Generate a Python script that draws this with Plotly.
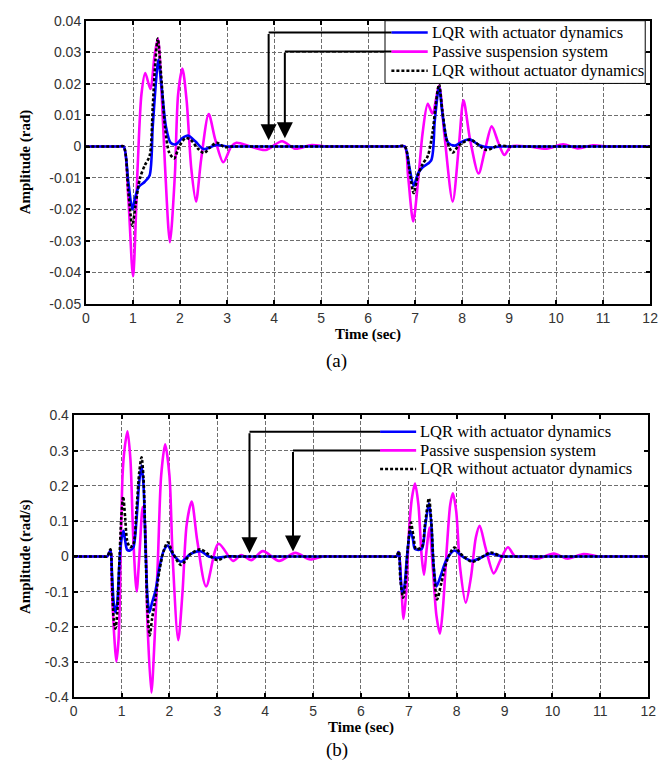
import plotly.graph_objects as go

# ---------------- data ----------------
# (a) pitch angle (rad) : (time s, value)
a_passive = [(0, 0), (0.70, 0), (0.80, 0), (0.90, -0.0164), (1.00, -0.0412), (1.10, -0.006), (1.18, 0.0167),
             (1.26, 0.0234), (1.37, 0.0183), (1.46, 0.0291), (1.53, 0.0343), (1.61, 0.0167),
             (1.68, -0.006), (1.785, -0.0304), (1.89, -0.0092), (1.96, 0.0167), (2.05, 0.0248),
             (2.14, 0.0147), (2.24, -0.0071), (2.34, -0.0175), (2.45, -0.004), (2.61, 0.0103),
             (2.75, 0.0022), (2.92, -0.005), (3.09, 0.0), (3.20, 0.0012), (3.50, 0.0),
             (3.82, -0.0011), (4.17, 0.0017), (4.45, -0.0007), (4.80, 0.0005), (5.10, 0), (5.30, 0),
             (6.60, 0), (6.78, 0), (6.85, -0.0092), (6.96, -0.0238), (7.07, -0.010), (7.16, 0.0043),
             (7.27, 0.0136), (7.37, 0.0105), (7.51, 0.0193), (7.62, 0.0043), (7.80, -0.0175),
             (7.93, 0.0), (8.03, 0.0147), (8.17, 0.0022), (8.35, -0.0086), (8.49, -0.0009),
             (8.63, 0.0064), (8.77, 0.0013), (8.90, -0.0027), (9.04, 0), (9.40, 0),
             (9.80, -0.0007), (10.15, 0.0007), (10.46, -0.0006), (10.78, 0.0004), (11.10, 0),
             (11.3, 0), (12, 0)]

a_lqr_dyn = [(0, 0), (0.70, 0), (0.80, 0), (0.90, -0.0112), (0.985, -0.0200), (1.04, -0.0165), (1.124, -0.0128),
             (1.25, -0.0112), (1.353, -0.0092), (1.42, 0.0064), (1.49, 0.0209), (1.537, 0.0276),
             (1.61, 0.0188), (1.70, 0.0064), (1.80, 0.0012), (1.91, 0.0007), (2.05, 0.0027),
             (2.17, 0.0035), (2.33, 0.0016), (2.50, -0.0008), (2.78, 0.0005), (3.0, 0), (3.2, 0),
             (6.6, 0), (6.78, 0), (6.885, -0.0071), (6.97, -0.0125), (7.06, -0.0086), (7.16, -0.0066),
             (7.34, -0.0045), (7.42, 0.0084), (7.51, 0.0188), (7.59, 0.0095), (7.70, 0.0013),
             (7.85, 0.0003), (8.03, 0.0018), (8.17, 0.0022), (8.38, 0.0003), (8.58, -0.0003),
             (8.8, 0), (9.0, 0), (12, 0)]

a_lqr_nodyn = [(0, 0), (0.70, 0), (0.80, 0), (0.90, -0.0143), (0.985, -0.0252), (1.055, -0.0185), (1.145, -0.0102),
               (1.25, -0.006), (1.353, -0.003), (1.42, 0.0126), (1.476, 0.0271), (1.527, 0.0343),
               (1.597, 0.0229), (1.68, 0.0064), (1.77, -0.0019), (1.875, -0.0038), (1.98, 0.0),
               (2.12, 0.0027), (2.22, 0.0022), (2.39, -0.0008), (2.51, -0.0021), (2.63, -0.0004),
               (2.78, 0.0012), (2.95, -0.0002), (3.1, 0), (3.3, 0), (6.6, 0), (6.78, 0), (6.885, -0.0081),
               (6.97, -0.0148), (7.06, -0.0092), (7.16, -0.0056), (7.27, -0.003), (7.37, 0.0043),
               (7.45, 0.0146), (7.51, 0.0198), (7.58, 0.0115), (7.68, 0.0017), (7.80, -0.0019),
               (7.93, 0.0003), (8.17, 0.0022), (8.52, -0.0011), (8.77, 0.0003), (9.0, 0), (9.2, 0),
               (12, 0)]

# (b) pitch rate (rad/s) : (time s, value)
b_passive = [(0, 0), (0.60, 0), (0.70, 0), (0.767, 0.017), (0.80, -0.103), (0.85, -0.233), (0.89, -0.298),
             (0.938, -0.233), (0.979, -0.003), (1.02, 0.23), (1.061, 0.304), (1.123, 0.355),
             (1.184, 0.276), (1.246, 0.045), (1.314, -0.099), (1.369, -0.003), (1.44, 0.14),
             (1.49, 0.09), (1.54, -0.187), (1.622, -0.386), (1.69, -0.233), (1.76, -0.003),
             (1.827, 0.23), (1.91, 0.318), (1.999, 0.23), (2.067, -0.003), (2.183, -0.2375),
             (2.272, -0.103), (2.36, 0.091), (2.464, 0.156), (2.58, 0.045), (2.765, -0.085),
             (3.025, 0.036), (3.33, -0.0125), (3.50, 0.004), (3.71, -0.0105), (3.95, 0.015),
             (4.29, -0.0125), (4.63, 0.0102), (4.94, -0.0087), (5.2, 0), (5.4, 0), (6.6, 0), (6.742, 0),
             (6.79, 0.0125), (6.84, -0.075), (6.89, -0.177), (6.945, -0.103), (7.0, 0.063),
             (7.064, 0.165), (7.13, 0.207), (7.2, 0.147), (7.27, -0.002), (7.317, -0.052),
             (7.37, 0.017), (7.43, 0.082), (7.5, -0.03), (7.577, -0.168), (7.65, -0.219),
             (7.71, -0.15), (7.80, 0.036), (7.865, 0.147), (7.92, 0.179), (7.99, 0.128),
             (8.07, -0.03), (8.19, -0.131), (8.30, -0.057), (8.40, 0.054), (8.48, 0.087),
             (8.60, 0.026), (8.775, -0.048), (8.91, -0.011), (9.07, 0.026), (9.22, 0), (9.45, 0),
             (9.69, -0.006), (10.03, 0.008), (10.31, -0.006), (10.65, 0.007), (10.95, 0),
             (11.15, 0), (12, 0)]

b_lqr_dyn = [(0, 0), (0.60, 0), (0.70, 0), (0.767, 0.017), (0.80, -0.048), (0.835, -0.131), (0.87, -0.159),
             (0.91, -0.131), (0.95, -0.029), (0.993, 0.045), (1.04, 0.073), (1.075, 0.045),
             (1.116, 0.019), (1.177, 0.017), (1.246, 0.026), (1.314, 0.109), (1.369, 0.212),
             (1.417, 0.258), (1.458, 0.202), (1.50, 0.026), (1.54, -0.1125), (1.581, -0.159),
             (1.636, -0.131), (1.705, -0.099), (1.793, -0.029), (1.882, 0.017), (1.964, 0.031),
             (2.067, 0.007), (2.24, -0.015), (2.44, 0.007), (2.65, 0.015), (2.82, 0),
             (3.0, -0.004), (3.2, 0), (3.4, 0), (6.6, 0), (6.742, 0), (6.79, 0.0125), (6.824, -0.048),
             (6.86, -0.103), (6.906, -0.085), (6.96, -0.002), (7.03, 0.073), (7.084, 0.05), (7.13, 0.021),
             (7.27, 0.021), (7.338, 0.082), (7.42, 0.151), (7.47, 0.091), (7.52, -0.03),
             (7.577, -0.085), (7.66, -0.057), (7.78, -0.011), (7.95, 0.017), (8.14, -0.002),
             (8.33, -0.0125), (8.71, 0.008), (8.95, 0), (9.15, 0), (12, 0)]

b_lqr_nodyn = [(0, 0), (0.60, 0), (0.70, 0), (0.767, 0.02), (0.80, -0.075), (0.835, -0.177), (0.87, -0.205),
               (0.91, -0.159), (0.95, -0.029), (0.993, 0.109), (1.033, 0.17), (1.075, 0.109),
               (1.116, 0.045), (1.177, 0.026), (1.246, 0.035), (1.314, 0.137), (1.369, 0.239),
               (1.417, 0.281), (1.458, 0.221), (1.50, 0.026), (1.54, -0.15), (1.588, -0.224),
               (1.636, -0.177), (1.705, -0.122), (1.793, -0.038), (1.882, 0.017), (1.964, 0.04),
               (2.067, 0.011), (2.24, -0.024), (2.44, 0.007), (2.65, 0.02), (2.99, -0.01),
               (3.2, 0), (3.4, 0), (6.6, 0), (6.742, 0), (6.79, 0.015), (6.824, -0.067), (6.88, -0.117),
               (6.93, -0.075), (6.975, 0.017), (7.043, 0.096), (7.10, 0.054), (7.15, 0.021), (7.27, 0.026),
               (7.338, 0.091), (7.42, 0.165), (7.47, 0.10), (7.52, -0.03), (7.59, -0.122),
               (7.68, -0.075), (7.80, -0.011), (7.95, 0.025), (8.14, 0.0), (8.33, -0.015),
               (8.71, 0.011), (8.95, 0), (9.15, 0), (12, 0)]

series_names = ["LQR with actuator dynamics", "Passive suspension system", "LQR without actuator dynamics"]

x_ticks = list(range(0, 13))
x_ticktext = [str(v) for v in x_ticks]
ya_ticks = [0.04, 0.03, 0.02, 0.01, 0, -0.01, -0.02, -0.03, -0.04, -0.05]
ya_ticktext = ["0.04", "0.03", "0.02", "0.01", "0", "-0.01", "-0.02", "-0.03", "-0.04", "-0.05"]
yb_ticks = [0.4, 0.3, 0.2, 0.1, 0, -0.1, -0.2, -0.3, -0.4]
yb_ticktext = ["0.4", "0.3", "0.2", "0.1", "0", "-0.1", "-0.2", "-0.3", "-0.4"]

# ---------------- figure ----------------
W, H = 666, 776
BLUE, MAG, BLK = "#0000ff", "#ff00ff", "#000000"
DOT = "3px,2px"
LW = 2.6

# plot-area pixel boxes (left, top, right, bottom) and axis ranges
PA = dict(box=(83.5, 13, 658, 302), xr=(0, 12), yr=(-0.05, 0.04))
PB = dict(box=(71, 416, 656, 704), xr=(0, 12), yr=(-0.4, 0.4))


def px_x(p):
    return p / W


def px_y(p):
    return 1 - p / H


def to_data(panel, px, py):
    l, t, r, b = panel["box"]
    x0, x1 = panel["xr"]
    y0, y1 = panel["yr"]
    return x0 + (px - l) / (r - l) * (x1 - x0), y1 - (py - t) / (b - t) * (y1 - y0)


fig = go.Figure()


def add_series(data, name, color, dash, xa, ya):
    fig.add_trace(go.Scatter(
        x=[p[0] for p in data], y=[p[1] for p in data], name=name, mode="lines",
        line=dict(color=color, width=LW, dash=dash, shape="spline", smoothing=0.8),
        xaxis=xa, yaxis=ya, showlegend=False))


for xa, ya, (pas, dyn, nod) in [("x", "y", (a_passive, a_lqr_dyn, a_lqr_nodyn)),
                                ("x2", "y2", (b_passive, b_lqr_dyn, b_lqr_nodyn))]:
    add_series(pas, series_names[1], MAG, "solid", xa, ya)
    add_series(dyn, series_names[0], BLUE, "solid", xa, ya)
    add_series(nod, series_names[2], BLK, DOT, xa, ya)

tickfont = dict(family="Liberation Sans, Arial, sans-serif", size=14, color="#333333")
axis_common = dict(showline=True, linecolor="black", linewidth=2, mirror="allticks",
                   ticks="inside", ticklen=4, tickwidth=1.5, tickcolor="black",
                   showgrid=True, gridcolor="#6e6e6e", gridwidth=1, griddash="4px,2px",
                   zeroline=False, tickfont=tickfont)


def dom(panel):
    l, t, r, b = panel["box"]
    return [px_x(l), px_x(r)], [px_y(b), px_y(t)]


ax_a, ay_a = dom(PA)
ax_b, ay_b = dom(PB)
fig.update_layout(
    width=W, height=H, margin=dict(l=0, r=0, t=0, b=0),
    paper_bgcolor="white", plot_bgcolor="white", showlegend=False,
    xaxis=dict(domain=ax_a, range=list(PA["xr"]), tickvals=x_ticks, ticktext=x_ticktext,
               anchor="y", **axis_common),
    yaxis=dict(domain=ay_a, range=list(PA["yr"]), tickvals=ya_ticks,
               ticktext=ya_ticktext, anchor="x", **axis_common),
    xaxis2=dict(domain=ax_b, range=list(PB["xr"]), tickvals=x_ticks, ticktext=x_ticktext,
                anchor="y2", **axis_common),
    yaxis2=dict(domain=ay_b, range=list(PB["yr"]), tickvals=yb_ticks,
                ticktext=yb_ticktext, anchor="x2", **axis_common),
)

serif_b = dict(family="Liberation Serif, Times New Roman, serif", size=15, color="black")
cap_font = dict(family="Liberation Serif, Times New Roman, serif", size=19, color="black")
leg_font = dict(family="Liberation Serif, Times New Roman, serif", size=16.5, color="black")
ann = [
    dict(text="<b>Time (sec)</b>", x=px_x(370.75), y=px_y(333), font=serif_b),
    dict(text="<b>Amplitude (rad)</b>", x=px_x(22), y=px_y(157), font=serif_b, textangle=-90),
    dict(text="(a)", x=px_x(339), y=px_y(360), font=cap_font),
    dict(text="<b>Time (sec)</b>", x=px_x(363.5), y=px_y(735), font=serif_b),
    dict(text="<b>Amplitude (rad/s)</b>", x=px_x(22), y=px_y(560), font=serif_b, textangle=-90),
    dict(text="(b)", x=px_x(339), y=px_y(758), font=cap_font),
]
for a in ann:
    fig.add_annotation(xref="paper", yref="paper", xanchor="center", yanchor="middle",
                       showarrow=False, **a)

# legend boxes (pixel layout) : box, row centres, sample line x-span, text x, border
legends = [
    dict(panel=PA, box=(388, 13, 653, 77), rows=(25, 44.5, 64), line=(394.5, 431.5), tx=433.5,
         border=1, turns=(269.5, 286), tips=(135, 133)),
    dict(panel=PB, box=(378, 420, 650, 481), rows=(432.7, 451.7, 470.7), line=(383, 419.7), tx=422,
         border=0, turns=(250, 294.3), tips=(556.7, 555)),
]
styles = [(BLUE, "solid"), (MAG, "solid"), (BLK, DOT)]
for lg in legends:
    l, t, r, b = lg["box"]
    fig.add_shape(type="rect", xref="paper", yref="paper", x0=px_x(l), x1=px_x(r),
                  y0=px_y(b), y1=px_y(t), fillcolor="white",
                  line=dict(color="black", width=lg["border"]) if lg["border"] else dict(width=0))
    for (col, dash), yrow, name in zip(styles, lg["rows"], series_names):
        fig.add_shape(type="line", xref="paper", yref="paper", x0=px_x(lg["line"][0]),
                      x1=px_x(lg["line"][1]), y0=px_y(yrow), y1=px_y(yrow),
                      line=dict(color=col, width=LW, dash=dash))
        fig.add_annotation(xref="paper", yref="paper", x=px_x(lg["tx"]), y=px_y(yrow),
                           xanchor="left", yanchor="middle", text=name, showarrow=False,
                           font=leg_font)
    # arrows from the first two legend entries down to the curves
    xa, ya = ("x", "y") if lg["panel"] is PA else ("x2", "y2")
    for yrow, xturn, ytip in zip(lg["rows"][:2], lg["turns"], lg["tips"]):
        xs, yl = to_data(lg["panel"], lg["line"][0], yrow)
        xt, ytp = to_data(lg["panel"], xturn, ytip)
        fig.add_shape(type="line", xref=xa, yref=ya, x0=xs, x1=xt, y0=yl, y1=yl,
                      line=dict(color="black", width=2))
        fig.add_annotation(xref=xa, yref=ya, axref=xa, ayref=ya, x=xt, y=ytp, ax=xt, ay=yl,
                           text="", showarrow=True, arrowhead=2, arrowsize=1.6, arrowwidth=2,
                           arrowcolor="black", standoff=0)

fig.write_html("out.html")
